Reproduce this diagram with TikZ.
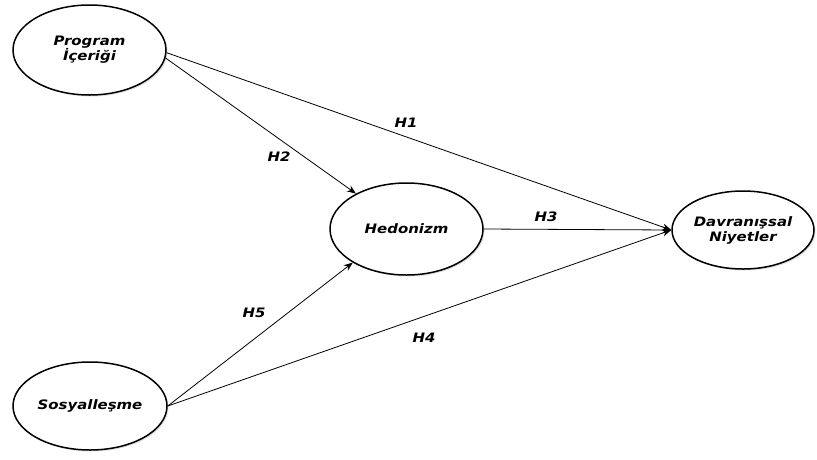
\documentclass[tikz,border=0pt]{standalone}
\usepackage{fontspec}
\newfontfamily\lblfont[FakeStretch=1.15]{DejaVu Sans}
\usetikzlibrary{shapes.geometric,arrows.meta,shadows}
\tikzset{
  construct/.style={ellipse, draw=black, line width=1.5pt, fill=white, inner sep=0pt,
    align=center, font=\lblfont\bfseries\itshape\fontsize{13}{15}\selectfont,
    drop shadow={opacity=0.25, shadow xshift=1.5pt, shadow yshift=-1.5pt}},
  path/.style={draw=black, line width=0.8pt, -{Stealth[length=9pt,width=7pt]}},
  hlabel/.style={font=\lblfont\bfseries\itshape\fontsize{13}{15}\selectfont, inner sep=0pt}
}
\begin{document}
\begin{tikzpicture}[x=1pt,y=-1pt]
\useasboundingbox (0,0) rectangle (817,459);
\node[construct, minimum width=153pt, minimum height=90pt] (prog) at (89.5,50) {Program\\İçeriği};
\node[construct, minimum width=153pt, minimum height=92pt] (hed) at (406.5,229) {Hedonizm};
\node[construct, minimum width=142pt, minimum height=78pt] (dav) at (743,230) {Davranışsal\\Niyetler};
\node[construct, minimum width=154pt, minimum height=88pt] (sos) at (90,406) {Sosyalleşme};
\draw[path] (prog.-2) -- (dav.west);
\draw[path] (prog.-6) -- (hed.145);
\draw[path] (hed.east) -- (dav.west);
\draw[path] (sos.east) -- (hed.212);
\draw[path] (sos.east) -- (dav.west);
\node[hlabel] (h1) at (406,123) {H1};
\node[hlabel] (h2) at (279,157) {H2};
\node[hlabel] (h3) at (546,217) {H3};
\node[hlabel] (h4) at (424,338) {H4};
\node[hlabel] (h5) at (254,313) {H5};
\end{tikzpicture}
\end{document}
